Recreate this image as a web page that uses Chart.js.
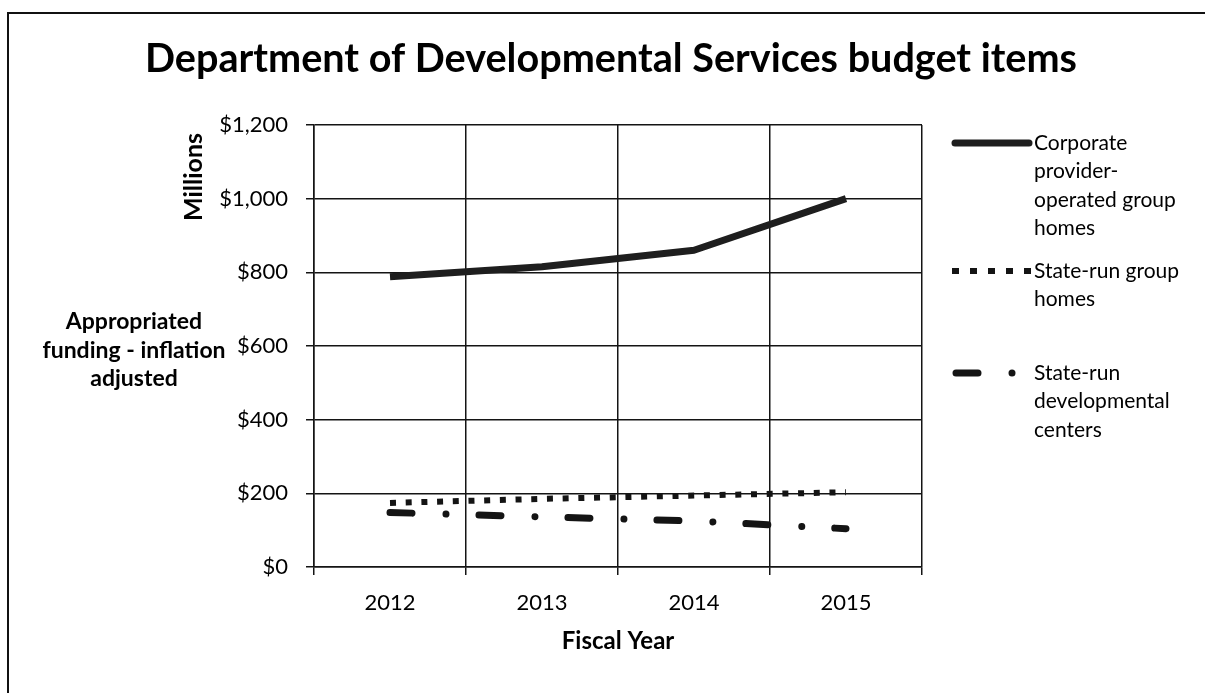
<!DOCTYPE html>
<html>
<head>
<meta charset="utf-8">
<script src="https://cdn.jsdelivr.net/npm/chart.js@4.4.1/dist/chart.umd.min.js"></script>
<style>
  html, body { margin: 0; padding: 0; background: #fff; }
  #wrap { position: relative; width: 1205px; height: 693px; }
  #frame { position: absolute; left: 7px; top: 12px; right: -2px; bottom: -2px; border-top: 2px solid #111; border-left: 2px solid #111; }
  canvas { position: absolute; left: 0; top: 0; }
</style>
</head>
<body>
<div id="wrap">
  <div id="frame"></div>
  <canvas id="chart" width="1205" height="693"></canvas>
</div>
<script>
// values, in millions of dollars
const years = ['2012', '2013', '2014', '2015'];
const corporateHomes = [788, 815, 860, 1000];
const stateGroupHomes = [174, 185, 194, 203];
const stateDevCenters = [148, 136, 125, 104];

const seriesNames = [
  'Corporate provider-operated group homes',
  'State-run group homes',
  'State-run developmental centers'
];
const legendLines = [
  ['Corporate', 'provider-', 'operated group', 'homes'],
  ['State-run group', 'homes'],
  ['State-run', 'developmental', 'centers']
];

const chartTitle = 'Department of Developmental Services budget items';
const yAxisLabel = ['Appropriated', 'funding - inflation', 'adjusted'];
const yUnitLabel = 'Millions';
const xAxisLabel = 'Fiscal Year';

const FONT = 'Lato, "Open Sans", sans-serif';
const INK = '#141414';

// title, side labels and the wrapped legend
const decorations = {
  id: 'decorations',
  afterDraw(chart) {
    const ctx = chart.ctx;
    const area = chart.chartArea;
    ctx.save();
    ctx.fillStyle = '#000';

    // title, sized to span the same width as the original
    let size = 34;
    ctx.font = 'bold ' + size + 'px ' + FONT;
    size = size * 932 / ctx.measureText(chartTitle).width;
    ctx.font = 'bold ' + size.toFixed(1) + 'px ' + FONT;
    ctx.textAlign = 'center';
    ctx.textBaseline = 'alphabetic';
    ctx.fillText(chartTitle, 611, 72);

    // left label
    ctx.font = 'bold 23px ' + FONT;
    yAxisLabel.forEach((t, i) => ctx.fillText(t, 134, 329 + i * 28.5));

    // x axis title
    ctx.font = 'bold 24px ' + FONT;
    ctx.textBaseline = 'middle';
    ctx.fillText(xAxisLabel, (area.left + area.right) / 2, 641);

    // "Millions", rotated
    ctx.save();
    ctx.translate(194, 177);
    ctx.rotate(-Math.PI / 2);
    ctx.font = 'bold 25px ' + FONT;
    ctx.fillText(yUnitLabel, 0, 0);
    ctx.restore();

    // legend
    const rowY = [143, 271, 373];
    chart.data.datasets.forEach((ds, i) => {
      const y = rowY[i];
      ctx.save();
      ctx.strokeStyle = ds.borderColor;
      ctx.lineWidth = ds.borderWidth;
      ctx.lineCap = ds.legendCap || ds.borderCapStyle || 'butt';
      ctx.setLineDash(ds.legendDash || ds.borderDash || []);
      ctx.beginPath();
      ctx.moveTo(ds.legendFrom, y);
      ctx.lineTo(ds.legendTo, y);
      ctx.stroke();
      ctx.restore();
      ctx.font = '21px ' + FONT;
      ctx.textAlign = 'left';
      ctx.textBaseline = 'middle';
      legendLines[i].forEach((t, j) => ctx.fillText(t, 1034, y + j * 28.5));
    });
    ctx.restore();
  }
};

new Chart(document.getElementById('chart'), {
  type: 'line',
  data: {
    labels: years,
    datasets: [
      {
        label: seriesNames[0],
        data: corporateHomes,
        borderColor: '#1e1e1e',
        borderWidth: 7,
        borderCapStyle: 'butt',
        borderJoinStyle: 'round',
        legendCap: 'round',
        legendFrom: 955, legendTo: 1029
      },
      {
        label: seriesNames[1],
        data: stateGroupHomes,
        borderColor: INK,
        borderWidth: 6,
        borderDash: [6, 9.7],
        borderCapStyle: 'butt',
        legendDash: [7, 11],
        legendFrom: 952, legendTo: 1032
      },
      {
        label: seriesNames[2],
        data: stateDevCenters,
        borderColor: INK,
        borderWidth: 7,
        borderDash: [22, 34, 0.01, 33],
        borderCapStyle: 'round',
        legendDash: [22, 34, 0.01, 100],
        legendFrom: 956, legendTo: 1014
      }
    ]
  },
  options: {
    responsive: false,
    animation: false,
    devicePixelRatio: 1,
    layout: { padding: { left: 0, top: 125, right: 283, bottom: 0 } },
    elements: {
      point: { radius: 0, hoverRadius: 0 },
      line: { tension: 0, fill: false }
    },
    plugins: {
      legend: { display: false },
      title: { display: false },
      tooltip: { enabled: false }
    },
    scales: {
      x: {
        offset: true,
        afterFit(scale) { scale.height = 126; },
        grid: { offset: true, color: INK, lineWidth: 1.5, tickLength: 8, drawTicks: true },
        border: { color: INK, width: 1.5 },
        ticks: { color: '#000', font: { family: FONT, size: 22 }, padding: 15, maxRotation: 0 }
      },
      y: {
        min: 0,
        max: 1200,
        afterFit(scale) { scale.width = 314; },
        grid: { color: INK, lineWidth: 1.5, tickLength: 8 },
        border: { color: INK, width: 1.5 },
        ticks: {
          stepSize: 200,
          color: '#000',
          font: { family: FONT, size: 22 },
          padding: 18,
          callback: v => '$' + v.toLocaleString('en-US')
        }
      }
    }
  },
  plugins: [decorations]
});
</script>
</body>
</html>
